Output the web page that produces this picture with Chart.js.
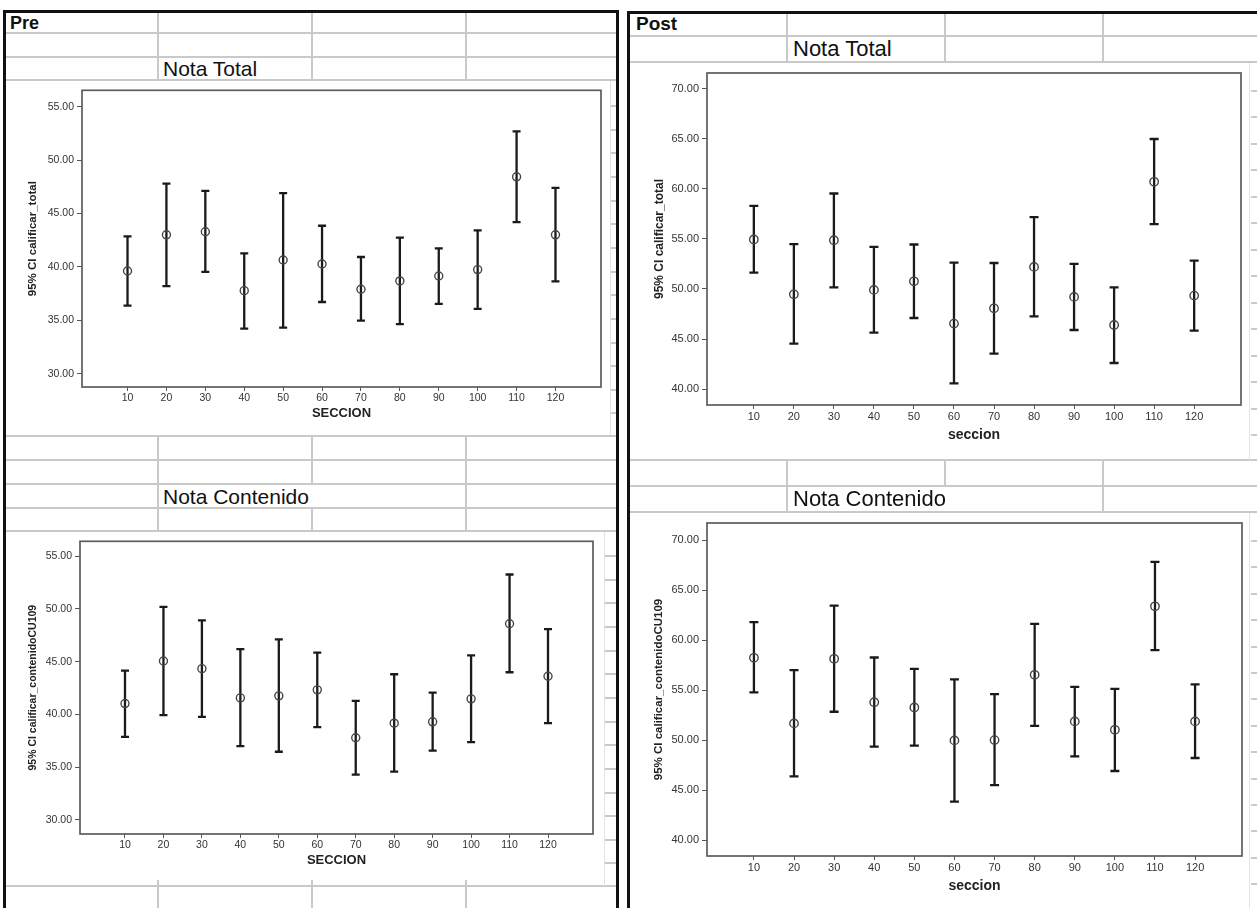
<!DOCTYPE html>
<html>
<head>
<meta charset="utf-8">
<title>Intervalos de confianza por sección</title>
<script src="https://cdn.jsdelivr.net/npm/chart.js@4.4.1/dist/chart.umd.min.js"></script>
<style>
  html, body { margin: 0; padding: 0; }
  body { width: 1257px; height: 908px; overflow: hidden; background: #fff; position: relative;
         font-family: "Liberation Sans", Arial, sans-serif; }
  .gl { position: absolute; background: #c9c9c9; }
  .edge { position: absolute; background: #e2e2e2; }
  .bd { position: absolute; background: #111; }
  .txt { position: absolute; white-space: nowrap; color: #111; line-height: 1; }
  .head { font-weight: bold; }
  canvas { position: absolute; }
</style>
</head>
<body>

<canvas id="preTotal" width="607" height="353" style="left:6px;top:81px"></canvas>
<canvas id="preCont" width="599" height="353" style="left:6px;top:532px"></canvas>
<canvas id="postTotal" width="616" height="397" style="left:632px;top:63px"></canvas>
<canvas id="postCont" width="616" height="395" style="left:632px;top:513px"></canvas>

<div id="sheet"></div>

<div class="txt head" style="left:10px;top:14px;font-size:18px">Pre</div>
<div class="txt" style="left:163px;top:58px;font-size:21px">Nota Total</div>
<div class="txt" style="left:163px;top:486px;font-size:21px">Nota Contenido</div>
<div class="txt head" style="left:636px;top:14px;font-size:19px">Post</div>
<div class="txt" style="left:793px;top:38px;font-size:22px">Nota Total</div>
<div class="txt" style="left:793px;top:488px;font-size:22px">Nota Contenido</div>

<script>
// Sections on the x axis and the value ticks of each panel
const sections = [10, 20, 30, 40, 50, 60, 70, 80, 90, 100, 110, 120];
const preTicks = [30, 35, 40, 45, 50, 55];
const postTicks = [40, 45, 50, 55, 60, 65, 70];

// Pre – calificar_total: mean and 95% CI bounds
const preTotalMean = [39.61, 43.00, 43.29, 37.77, 40.64, 40.27, 37.90, 38.68, 39.14, 39.74, 48.43, 43.00];
const preTotalLow  = [36.37, 38.20, 39.52, 34.22, 34.31, 36.71, 34.97, 34.63, 36.53, 36.06, 44.19, 38.64];
const preTotalHigh = [42.85, 47.80, 47.12, 41.26, 46.90, 43.85, 40.92, 42.73, 41.73, 43.41, 52.69, 47.40];

// Pre – calificar_contenidoCU109
const preContMean = [41.03, 45.07, 44.34, 41.57, 41.76, 42.33, 37.79, 39.17, 39.30, 41.48, 48.60, 43.62];
const preContLow  = [37.88, 39.93, 39.77, 37.00, 36.46, 38.80, 34.29, 34.57, 36.56, 37.38, 44.00, 39.17];
const preContHigh = [44.16, 50.21, 48.92, 46.20, 47.12, 45.86, 41.29, 43.81, 42.07, 45.61, 53.27, 48.10];

// Post – calificar_total
const postTotalMean = [54.95, 49.47, 54.88, 49.91, 50.77, 46.54, 48.07, 52.21, 49.21, 46.40, 60.72, 49.34];
const postTotalLow  = [51.64, 44.53, 50.17, 45.63, 47.10, 40.56, 43.53, 47.27, 45.90, 42.60, 56.48, 45.83];
const postTotalHigh = [58.32, 54.48, 59.55, 54.21, 54.45, 52.64, 52.60, 57.18, 52.51, 50.17, 65.00, 52.84];

// Post – calificar_contenidoCU109
const postContMean = [58.23, 51.68, 58.13, 53.80, 53.27, 49.98, 50.01, 56.53, 51.88, 51.04, 63.38, 51.88];
const postContLow  = [54.77, 46.39, 52.84, 49.35, 49.45, 43.86, 45.52, 51.44, 48.38, 46.92, 58.99, 48.22];
const postContHigh = [61.79, 57.00, 63.45, 58.26, 57.13, 56.07, 54.60, 61.62, 55.33, 55.13, 67.81, 55.57];

// ---- spreadsheet background: grid lines, borders, row stubs ----
const sheet = document.getElementById('sheet');
function box(cls, l, t, w, h) {
  const d = document.createElement('div');
  d.className = cls;
  d.style.cssText = `left:${l}px;top:${t}px;width:${w}px;height:${h}px`;
  sheet.appendChild(d);
}
// left sheet
[33, 57, 80, 436, 460, 484, 508, 531, 886].forEach(y => box('gl', 6, y - 1, 610, 2));
[158, 312, 466].forEach(x => {
  box('gl', x - 1, 12, 2, 69);
  box('gl', x - 1, 436, 2, 48);
  box('gl', x - 1, 508, 2, 24);
  box('gl', x - 1, 880, 2, 28);
});
[158, 466].forEach(x => box('gl', x - 1, 484, 2, 24));
box('edge', 610, 81, 1, 354);
box('edge', 604, 532, 1, 354);
for (let k = 0; k < 14; k++) box('gl', 611, Math.round(105 + 23.65 * k), 5, 2);
for (let k = 0; k < 14; k++) box('gl', 605, Math.round(555 + 23.65 * k), 11, 2);
// right sheet
[36, 62, 460, 486, 512].forEach(y => box('gl', 630, y - 1, 627, 2));
[787, 945, 1103].forEach(x => {
  box('gl', x - 1, 13, 2, 49);
  box('gl', x - 1, 460, 2, 26);
});
[787, 1103].forEach(x => box('gl', x - 1, 486, 2, 26));
box('edge', 1249, 63, 1, 397);
box('edge', 1249, 513, 1, 395);
for (let k = 0; k < 14; k++) box('gl', 1251, Math.round(89.5 + 26.5 * k), 6, 2);
for (let k = 0; k < 14; k++) box('gl', 1251, Math.round(540 + 26.4 * k), 6, 2);
// black panel frames
box('bd', 3, 10, 616, 3);
box('bd', 3, 10, 3, 898);
box('bd', 616, 10, 3, 898);
box('bd', 627, 11, 630, 3);
box('bd', 627, 11, 3, 897);

// ---- error-bar charts ----
const FONT = '"Liberation Sans", Arial, sans-serif';

// draws the plot frame and the CI whiskers with caps under the mean markers
const ciBars = {
  id: 'ciBars',
  beforeDatasetsDraw(chart, args, opts) {
    const { ctx, chartArea: a, scales: { x, y } } = chart;
    ctx.save();
    ctx.strokeStyle = opts.frameColor;
    ctx.lineWidth = opts.frameWidth;
    ctx.strokeRect(a.left, a.top, a.right - a.left, a.bottom - a.top);
    ctx.strokeStyle = opts.color;
    ctx.lineWidth = opts.width;
    chart.data.datasets.forEach(ds => {
      ds.data.forEach(p => {
        const px = x.getPixelForValue(p.x);
        const yl = y.getPixelForValue(p.low);
        const yh = y.getPixelForValue(p.high);
        ctx.beginPath();
        ctx.moveTo(px, yl); ctx.lineTo(px, yh);
        ctx.moveTo(px - opts.cap, yl); ctx.lineTo(px + opts.cap, yl);
        ctx.moveTo(px - opts.cap, yh); ctx.lineTo(px + opts.cap, yh);
        ctx.stroke();
      });
    });
    ctx.restore();
  }
};

function ciChart(id, c) {
  const points = sections.map((s, i) => ({ x: s, y: c.mean[i], low: c.low[i], high: c.high[i] }));
  return new Chart(document.getElementById(id), {
    type: 'scatter',
    data: {
      datasets: [{
        data: points,
        pointRadius: c.r,
        pointHoverRadius: c.r,
        pointBorderWidth: 1.4,
        pointBorderColor: '#444',
        pointBackgroundColor: 'rgba(0,0,0,0)'
      }]
    },
    options: {
      responsive: false,
      animation: false,
      events: [],
      layout: { padding: { top: c.padTop, right: c.padRight, left: 0, bottom: 0 } },
      plugins: {
        legend: { display: false },
        tooltip: { enabled: false },
        ciBars: { cap: c.cap, color: '#1a1a1a', width: 2.3, frameColor: '#5c5c5c', frameWidth: 1.7 }
      },
      scales: {
        x: {
          type: 'linear',
          min: -1.7,
          max: 131.7,
          afterBuildTicks: s => { s.ticks = sections.map(v => ({ value: v })); },
          afterFit: s => { s.height = c.xAxisH; },
          grid: { display: true, drawOnChartArea: false, drawTicks: true, tickLength: 4, color: '#555', lineWidth: 1 },
          border: { display: false },
          ticks: { padding: 1, autoSkip: false, maxRotation: 0, color: '#333',
                   font: { family: FONT, size: c.tickSize } },
          title: { display: true, text: c.xTitle, color: '#222',
                   font: { family: FONT, size: c.xTitleSize, weight: 'bold' },
                   padding: { top: 0, bottom: c.xTitlePad } }
        },
        y: {
          min: c.yMin,
          max: c.yMax,
          afterBuildTicks: s => { s.ticks = c.ticks.map(v => ({ value: v })); },
          afterFit: s => { s.width = c.yAxisW; },
          grid: { display: true, drawOnChartArea: false, drawTicks: true, tickLength: 5, color: '#555', lineWidth: 1 },
          border: { display: false },
          ticks: { padding: 3, color: '#333', callback: v => Number(v).toFixed(2),
                   font: { family: FONT, size: c.tickSize } },
          title: { display: true, text: c.yTitle, color: '#222',
                   font: { family: FONT, size: c.yTitleSize, weight: 'bold' },
                   padding: { top: c.yTitlePad, bottom: 0 } }
        }
      }
    },
    plugins: [ciBars]
  });
}

ciChart('preTotal', {
  mean: preTotalMean, low: preTotalLow, high: preTotalHigh, ticks: preTicks,
  yMin: 28.75, yMax: 56.53, yTitle: '95% CI calificar_total', xTitle: 'SECCION',
  yAxisW: 76, xAxisH: 47, padTop: 8, padRight: 12,
  tickSize: 10.5, yTitleSize: 11.5, xTitleSize: 13, yTitlePad: 20, xTitlePad: 13,
  r: 4, cap: 4
});
ciChart('preCont', {
  mean: preContMean, low: preContLow, high: preContHigh, ticks: preTicks,
  yMin: 28.66, yMax: 56.42, yTitle: '95% CI calificar_contenidoCU109', xTitle: 'SECCION',
  yAxisW: 74, xAxisH: 51, padTop: 8, padRight: 12,
  tickSize: 10.5, yTitleSize: 10.5, xTitleSize: 13, yTitlePad: 21, xTitlePad: 17,
  r: 4, cap: 4
});
ciChart('postTotal', {
  mean: postTotalMean, low: postTotalLow, high: postTotalHigh, ticks: postTicks,
  yMin: 38.4, yMax: 71.6, yTitle: '95% CI calificar_total', xTitle: 'seccion',
  yAxisW: 75, xAxisH: 55, padTop: 10, padRight: 7,
  tickSize: 11, yTitleSize: 12, xTitleSize: 14, yTitlePad: 20, xTitlePad: 16,
  r: 4.2, cap: 4.5
});
ciChart('postCont', {
  mean: postContMean, low: postContLow, high: postContHigh, ticks: postTicks,
  yMin: 38.43, yMax: 71.7, yTitle: '95% CI calificar_contenidoCU109', xTitle: 'seccion',
  yAxisW: 75, xAxisH: 52, padTop: 10, padRight: 6,
  tickSize: 11, yTitleSize: 11.5, xTitleSize: 14, yTitlePad: 20, xTitlePad: 13,
  r: 4.2, cap: 4.5
});
</script>
</body>
</html>
